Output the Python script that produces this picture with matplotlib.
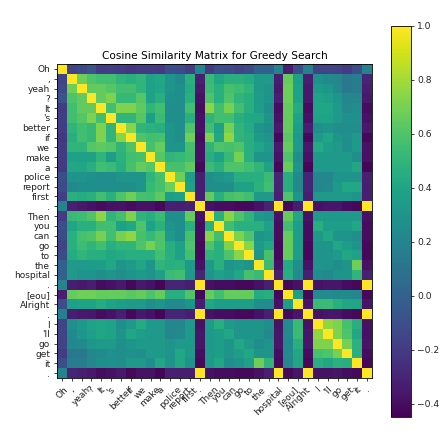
import numpy as np
import matplotlib
matplotlib.use('Agg')
import matplotlib.pyplot as plt

tokens = ['Oh', ',', 'yeah', '?', 'It', "'s", 'better', 'if', 'we', 'make', 'a', 'police', 'report', 'first', '.',
          'Then', 'you', 'can', 'go', 'to', 'the', 'hospital', '.', '[eou]', 'Alright', '.', 'I', "'ll", 'go', 'get', 'it', '.']

# upper triangle of the similarity matrix, one list per row, starting right of the diagonal
upper = [
    [-.15, -.13, -.08, -.2, -.18, -.2, -.22, -.2, -.2, -.21, -.1, -.12, -.18, .2, -.2, -.1, -.12, -.15, -.12, 0, 0, .2, -.33, -.1, .18, -.15, -.15, -.15, -.2, -.1, .2],
    [.68, .6, .56, .56, .5, .46, .5, .38, .42, .3, .24, .47, -.32, .53, .41, .47, .47, .44, .33, .33, -.33, .66, .37, -.33, .28, .24, .22, .13, .16, -.3],
    [.65, .65, .62, .56, .56, .5, .38, .4, .3, .27, .45, -.35, .55, .47, .58, .55, .5, .33, .3, -.35, .68, .39, -.35, .33, .31, .24, .13, .16, -.33],
    [.65, .72, .52, .52, .62, .38, .46, .28, .27, .47, -.38, .6, .47, .6, .5, .46, .35, .3, -.33, .68, .39, -.35, .39, .37, .31, .22, .22, -.35],
    [.56, .72, .72, .64, .5, .56, .27, .26, .56, -.4, .75, .56, .7, .56, .46, .36, .27, -.4, .66, .44, -.4, .4, .4, .33, .24, .27, -.4],
    [.5, .5, .62, .36, .54, .27, .27, .47, -.38, .5, .56, .56, .46, .42, .42, .3, -.38, .66, .39, -.38, .39, .39, .33, .28, .28, -.38],
    [.74, .5, .48, .46, .3, .27, .6, -.38, .56, .38, .7, .5, .44, .3, .27, -.35, .66, .36, -.33, .27, .3, .27, .27, .27, -.35],
    [.6, .56, .58, .3, .27, .68, -.4, .72, .42, .76, .5, .46, .33, .3, -.42, .63, .33, -.42, .33, .4, .3, .28, .33, -.42],
    [.58, .66, .3, .3, .58, -.38, .5, .6, .58, .6, .46, .41, .33, -.35, .66, .33, -.35, .44, .36, .33, .27, .33, -.38],
    [.62, .5, .52, .56, -.38, .46, .38, .52, .7, .46, .3, .3, -.38, .6, .27, -.38, .33, .33, .33, .33, .27, -.38],
    [.58, .58, .64, -.42, .54, .48, .6, .6, .56, .5, .38, -.43, .66, .3, -.43, .33, .33, .33, .33, .42, -.43],
    [.68, .36, -.32, .27, .3, .33, .46, .46, .46, .54, -.3, .46, .24, -.3, .22, .22, .3, .3, .3, -.32],
    [.38, -.33, .27, .27, .27, .38, .38, .48, .56, -.3, .46, .24, -.3, .22, .24, .33, .42, .42, -.33],
    [-.32, .66, .47, .58, .6, .56, .33, .33, -.33, .6, .3, -.33, .33, .33, .33, .33, .3, -.33],
    [-.38, -.4, -.4, -.42, -.42, -.38, -.3, 1, -.42, -.34, 1, -.38, -.36, -.36, -.4, -.42, 1],
    [.47, .74, .6, .5, .33, .3, -.38, .66, .42, -.38, .35, .33, .33, .33, .33, -.38],
    [.56, .47, .47, .47, .38, -.4, .56, .36, -.4, .46, .36, .36, .36, .42, -.4],
    [.72, .6, .3, .33, -.4, .66, .36, -.4, .33, .42, .3, .3, .27, -.4],
    [.74, .33, .42, -.42, .66, .36, -.42, .3, .3, .42, .36, .3, -.42],
    [.3, .58, -.42, .66, .36, -.42, .3, .3, .33, .42, .38, -.42],
    [.54, -.38, .44, .27, -.38, .3, .3, .27, .3, .68, -.38],
    [-.32, .46, .25, -.32, .27, .24, .3, .3, .5, -.32],
    [-.42, -.38, 1, -.38, -.36, -.36, -.4, -.42, 1],
    [.36, -.42, .25, .25, .24, .24, .22, -.42],
    [-.36, .54, .54, .46, .42, .41, -.37],
    [-.38, -.36, -.36, -.4, -.42, 1],
    [.76, .72, .58, .46, -.38],
    [.72, .6, .42, -.38],
    [.7, .48, -.37],
    [.46, -.4],
    [-.42],
]

n = len(tokens)
sim = np.eye(n)
for i, row in enumerate(upper):
    sim[i, i+1:] = row
    sim[i+1:, i] = row

fig = plt.figure(figsize=(4.41, 4.34), dpi=100)
ax = fig.add_axes([57/441, 1-378/434, 315/441, 314/434])
im = ax.imshow(sim, cmap='viridis', vmin=-0.45, vmax=1.0, aspect='auto')
ax.set_xticks(range(n))
ax.set_yticks(range(n))
ax.set_xticklabels(tokens, rotation=45, fontsize=6.5)
ax.set_yticklabels(tokens, fontsize=6.5)
ax.tick_params(length=2.5, width=0.6, pad=2.5, colors='#222222')
ax.set_title('Cosine Similarity Matrix for Greedy Search', fontsize=7.6, pad=3.5)
for s in ax.spines.values():
    s.set_linewidth(0.6)

cax = fig.add_axes([391/441, 1-417/434, 20/441, 391/434])
bar = fig.colorbar(im, cax=cax)
bar.set_ticks([-0.4, -0.2, 0, 0.2, 0.4, 0.6, 0.8, 1.0])
bar.ax.tick_params(labelsize=6.6, length=2.5, width=0.6, pad=2, colors='#222222')
bar.outline.set_linewidth(0.6)

plt.savefig('out.png', dpi=100)
